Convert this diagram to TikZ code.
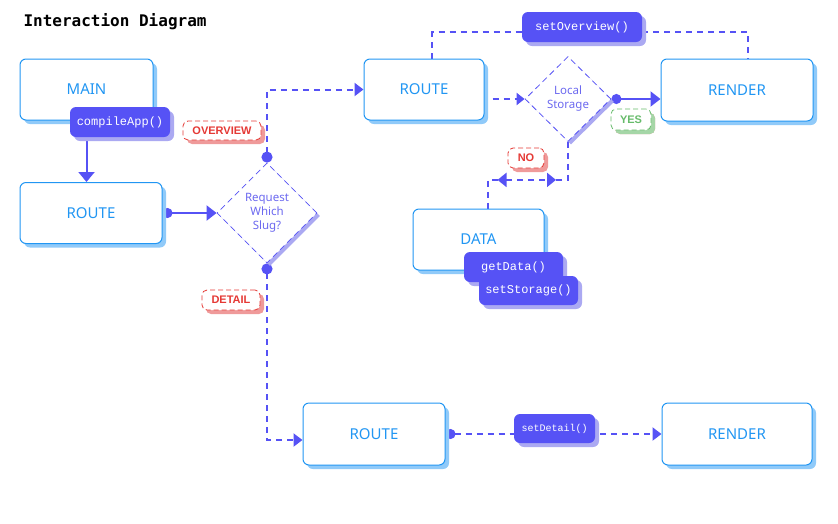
\documentclass[tikz,border=0pt]{standalone}
\usepackage{fontspec}
\newfontfamily\labelfont{Noto Sans}
\newfontfamily\tagfont{Liberation Sans}
\newfontfamily\codefont{Liberation Mono}
\newfontfamily\titlefont{DejaVu Sans Mono}
\usetikzlibrary{arrows.meta,shapes.geometric,shadows,backgrounds}

\definecolor{flowpurple}{HTML}{5652F5}
\definecolor{pillshadow}{HTML}{ABA9F2}
\definecolor{boxblue}{HTML}{2196F3}
\definecolor{boxshadow}{HTML}{90CAF9}
\definecolor{tagred}{HTML}{E53935}
\definecolor{tagredshadow}{HTML}{EF9A9A}
\definecolor{taggreen}{HTML}{66BB6A}
\definecolor{taggreenshadow}{HTML}{A5D6A7}
\definecolor{decisiontext}{HTML}{6C69F0}

\tikzset{
  box/.style={draw=boxblue, line width=1pt, fill=white, rounded corners=6pt, inner sep=0pt,
    text=boxblue, font=\labelfont\fontsize{15}{18}\selectfont,
    drop shadow={shadow xshift=4pt, shadow yshift=-4pt, fill=boxshadow, opacity=1}},
  pill/.style={fill=flowpurple, rounded corners=6pt, inner sep=0pt, minimum height=30pt,
    text=white, font=\codefont\fontsize{12}{14}\selectfont,
    drop shadow={shadow xshift=4pt, shadow yshift=-4pt, fill=pillshadow, opacity=1}},
  decision/.style={diamond, draw=flowpurple, line width=0.8pt, dash pattern=on 6pt off 4pt,
    fill=white, inner sep=0pt, align=center, text=decisiontext,
    font=\labelfont\fontsize{11.5}{14}\selectfont,
    drop shadow={shadow xshift=3pt, shadow yshift=-3pt, fill=pillshadow, opacity=1}},
  redtag/.style={draw=tagred, line width=0.8pt, dash pattern=on 5pt off 3pt, fill=white,
    rounded corners=5pt, inner sep=0pt, text=tagred, font=\tagfont\bfseries\fontsize{11}{12}\selectfont,
    drop shadow={shadow xshift=4pt, shadow yshift=-4pt, fill=tagredshadow, opacity=1}},
  greentag/.style={redtag, draw=taggreen, text=taggreen,
    drop shadow={shadow xshift=4pt, shadow yshift=-4pt, fill=taggreenshadow, opacity=1}},
  solidflow/.style={draw=flowpurple, line width=2pt},
  dashflow/.style={solidflow, dash pattern=on 6pt off 5pt},
}

\begin{document}
\begin{tikzpicture}[x=1pt, y=-1pt]
  \useasboundingbox (0,0) rectangle (838,523);
  % title
  \node [anchor=base west, font=\titlefont\bfseries\fontsize{16}{18}\selectfont] (title) at (20,26) {Interaction Diagram};
  % boxes
  \node [box, minimum width=133pt, minimum height=61pt] (main) at (86.5,89.5) {MAIN};
  \node [pill, minimum width=100pt] (compile) at (120,122) {compileApp()};
  \node [box, minimum width=142pt, minimum height=61pt] (route1) at (91,213) {ROUTE};
  \node [decision, minimum width=100pt, minimum height=100pt] (slug) at (267,213) {Request\\Which\\Slug?};
  \node [box, minimum width=120pt, minimum height=61pt] (route2) at (424,89.5) {ROUTE};
  \node [decision, minimum width=86pt, minimum height=85pt] (storage) at (568,99) {Local\\Storage};
  \node [box, minimum width=152pt, minimum height=62pt] (render1) at (737,90) {RENDER};
  \node [pill, minimum width=120pt] (setov) at (582,27) {setOverview()};
  \node [box, minimum width=131pt, minimum height=61pt] (data) at (478.5,239.5) {DATA};
  \node [pill, minimum width=99pt] (getdata) at (513.5,267) {getData()};
  \node [pill, minimum width=99pt, minimum height=29pt] (setstore) at (528.5,290.5) {setStorage()};
  \node [box, minimum width=142pt, minimum height=62pt] (route3) at (374,434) {ROUTE};
  \node [pill, minimum width=81pt, minimum height=29pt, font=\codefont\fontsize{10}{12}\selectfont] (setdet) at (554.5,428.5) {setDetail()};
  \node [box, minimum width=150pt, minimum height=62pt] (render2) at (737,434) {RENDER};
  % tags
  \node [redtag, minimum width=78pt, minimum height=19pt] (overview) at (222,130.5) {OVERVIEW};
  \node [redtag, minimum width=58pt, minimum height=20pt] (detail) at (231,300) {DETAIL};
  \node [redtag, minimum width=36pt, minimum height=20pt] (no) at (526,158) {NO};
  \node [greentag, minimum width=40pt, minimum height=21pt] (yes) at (631,119.5) {YES};
  % connectors
  \begin{scope}[on background layer]
    \draw [solidflow, -{Triangle[length=10pt,width=16pt]}] (main.south |- compile.south) -- (main.south |- route1.north);
    \draw [solidflow, {Circle[length=10pt]}-{Triangle[length=10pt,width=15pt]}] (route1.east) -- (slug.west);
    \draw [dashflow, {Circle[length=11pt]}-{Triangle[length=9pt,width=13pt]}] (slug.north) |- (route2.west);
    \draw [dashflow, {Circle[length=11pt]}-{Triangle[length=9pt,width=13pt]}] (slug.south) |- ([yshift=-6pt]route3.west);
    \draw [dashflow, -{Triangle[length=8pt,width=12pt]}, shorten <=8pt] (route2.east |- storage.west) -- (storage.west);
    \draw [dashflow] ([xshift=8pt]route2.north) |- ([yshift=-5pt]setov.west);
    \draw [dashflow] ([yshift=-5pt]setov.east) -| ([xshift=11pt]render1.north);
    \draw [solidflow, {Circle[length=10pt]}-{Triangle[length=10pt,width=15pt]}] (storage.east) -- (storage.east -| render1.west);
    % the NO branch
    \draw [dashflow] (storage.south) -- ++(0,38) coordinate (nodrop) -- ++(-12,0);
    \coordinate (dataturn) at ([xshift=9pt]data.north |- nodrop);
    \draw [dashflow, {Triangle[length=9pt,width=14pt]}-{Triangle[length=9pt,width=14pt]}, shorten <=10pt, shorten >=12pt]
      (dataturn) -- (nodrop);
    \draw [dashflow] ([xshift=10pt]dataturn) -- (dataturn) -- ([xshift=9pt]data.north);
    \draw [dashflow, {Circle[length=10pt]}-] (route3.east) -- (route3.east -| setdet.west);
    \draw [dashflow, -{Triangle[length=9pt,width=13pt]}, shorten <=5pt] (setdet.east |- render2.west) -- (render2.west);
  \end{scope}
\end{tikzpicture}
\end{document}
